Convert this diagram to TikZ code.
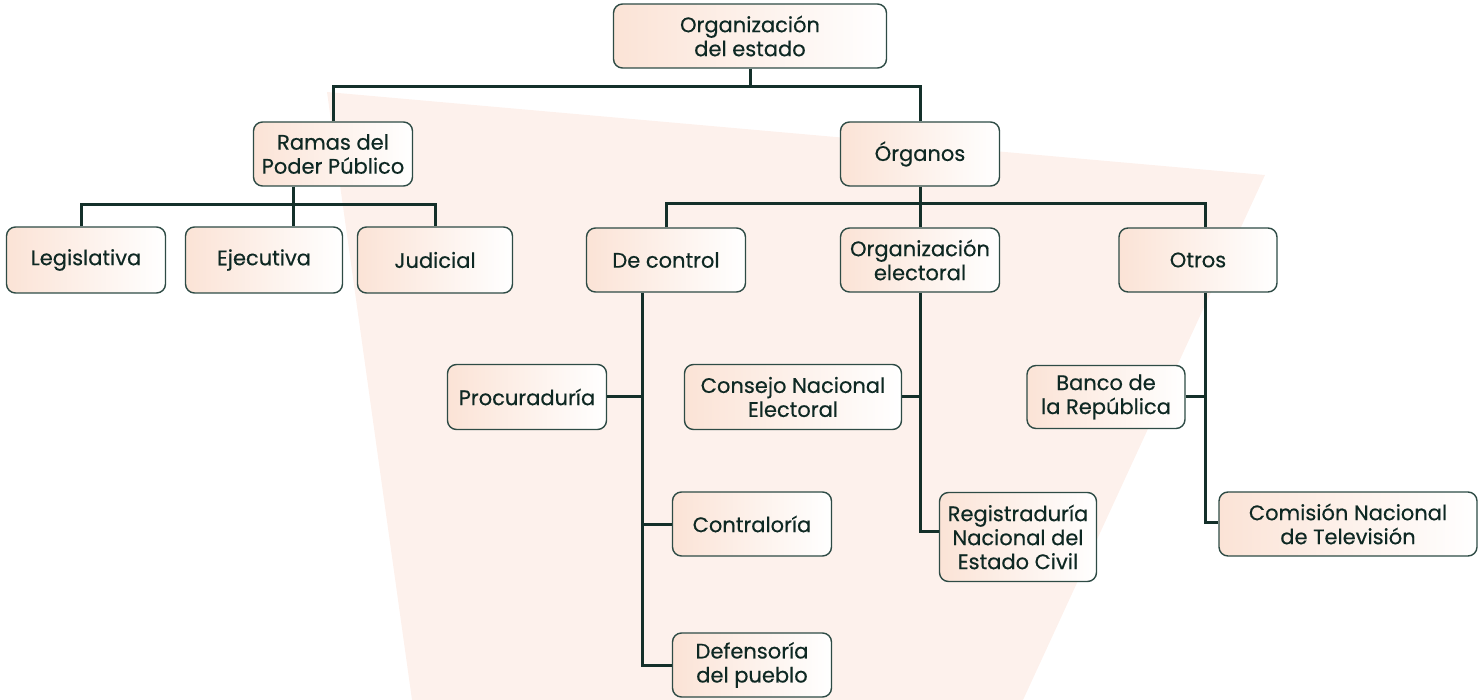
\documentclass[tikz,border=0pt]{standalone}
\usepackage{fontspec}
\setmainfont{Poppins}
\newfontfamily\boxfont{Poppins}[FakeBold=0.4]
\definecolor{bgshape}{HTML}{FDF1EC}
\definecolor{peach}{HTML}{FBE3D6}
\definecolor{boxline}{HTML}{2E4B45}
\definecolor{txt}{HTML}{0E2823}
\definecolor{conncol}{HTML}{14302A}
\tikzset{
  box/.style={draw=boxline, line width=1.4pt, rounded corners=9pt,
    left color=peach, right color=white, text=txt, align=center,
    font=\boxfont\fontsize{21}{24}\selectfont, inner sep=0pt},
  conn/.style={draw=conncol, line width=3pt}
}
\begin{document}
\begin{tikzpicture}[x=1pt,y=-1pt]
\useasboundingbox (0,0) rectangle (1484,700);
\fill[bgshape] (327,92) -- (1265,175) -- (1023,700) -- (412,700) -- cycle;

\node[box, minimum width=273pt, minimum height=64pt] (org) at (750,36) {Organización\\del estado};
\node[box, minimum width=159pt, minimum height=64pt] (ramas) at (333,154) {Ramas del\\Poder Público};
\node[box, minimum width=159pt, minimum height=64pt] (organos) at (920,154) {Órganos};
\node[box, minimum width=159pt, minimum height=66pt] (leg) at (86,260) {Legislativa};
\node[box, minimum width=157pt, minimum height=66pt] (eje) at (264,260) {Ejecutiva};
\node[box, minimum width=155pt, minimum height=66pt] (jud) at (435,260) {Judicial};
\node[box, minimum width=159pt, minimum height=64pt] (dec) at (666,260) {De control};
\node[box, minimum width=159pt, minimum height=64pt] (orgel) at (920,260) {Organización\\electoral};
\node[box, minimum width=158pt, minimum height=64pt] (otros) at (1198,260) {Otros};
\node[box, minimum width=159pt, minimum height=65pt] (proc) at (527,397) {Procuraduría};
\node[box, minimum width=217pt, minimum height=65pt] (cne) at (793,397) {Consejo Nacional\\Electoral};
\node[box, minimum width=158pt, minimum height=63pt] (banco) at (1106,397) {Banco de\\la República};
\node[box, minimum width=159pt, minimum height=64pt] (cont) at (752,524) {Contraloría};
\node[box, minimum width=157pt, minimum height=89pt] (reg) at (1018,537) {Registraduría\\Nacional del\\Estado Civil};
\node[box, minimum width=258pt, minimum height=64pt] (com) at (1348,524) {Comisión Nacional\\de Televisión};
\node[box, minimum width=159pt, minimum height=64pt] (def) at (752,665) {Defensoría\\del pueblo};

% top level
\draw[conn] (org.south) -- (org.south |- 0,87);
\draw[conn] (ramas.north) |- (organos.north |- 0,87) -- (organos.north);
% ramas
\draw[conn] (leg.north -| 81,0) |- (jud.north |- 0,205) -- (jud.north);
\draw[conn] (ramas.south -| 293,0) -- (eje.north -| 293,0);
% organos
\draw[conn] (organos.south) -- (orgel.north);
\draw[conn] (dec.north) |- (1205,204) -- (otros.north -| 1205,0);
% de control
\draw[conn] (dec.south -| 642,0) |- (def.west);
\draw[conn] (proc.east) -- (proc.east -| 642,0);
\draw[conn] (cont.west) -- (cont.west -| 642,0);
% organizacion electoral
\draw[conn] (orgel.south) |- (reg.west |- 0,531);
\draw[conn] (cne.east) -- (cne.east -| orgel.south);
% otros
\draw[conn] (otros.south -| 1205,0) |- (com.west |- 0,522);
\draw[conn] (banco.east) -- (banco.east -| 1205,0);
\end{tikzpicture}
\end{document}
